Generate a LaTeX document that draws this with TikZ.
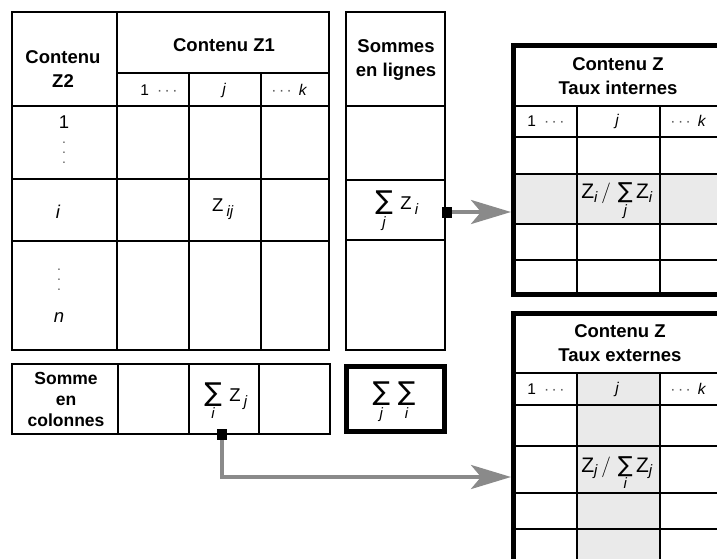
\documentclass[tikz,border=0pt]{standalone}
\usepackage{fontspec}
\setmainfont{Liberation Sans}
\newfontfamily\symfont{DejaVu Sans}
\usetikzlibrary{arrows.meta}
\definecolor{arrowgray}{RGB}{138,138,138}
\definecolor{cellgray}{RGB}{234,234,234}
\definecolor{dotgray}{RGB}{90,90,90}
\newcommand\sumop[1]{\mathop{\hbox{\symfont\fontsize{26}{26}\selectfont ∑}}\limits_{\hbox{\fontsize{15}{15}\selectfont\itshape #1}}}
\newcommand\sumopf[1]{\mathop{\hbox{\symfont\fontsize{22}{22}\selectfont ∑}}\limits_{\hbox{\fontsize{15}{15}\selectfont\itshape #1}}}
\newcommand\zsub[1]{\hbox{Z}_{\hbox{\fontsize{15}{15}\selectfont\itshape #1}}}
\newcommand\zsp[1]{\hbox{Z\,}_{\hbox{\fontsize{15}{15}\selectfont\itshape #1}}}
\newcommand\dd{{\color{dotgray}·\kern2.5pt·\kern2.5pt·}}
\newcommand\vd{{\color{dotgray}\fontsize{14}{8}\selectfont\vbox{\hbox{.}\kern2pt\hbox{.}\kern2pt\hbox{.}}}}
\tikzset{
  grid/.style={line width=1.4pt},
  frame/.style={line width=2pt},
  heavy/.style={line width=5pt},
  hdr/.style={font=\bfseries\fontsize{18.5}{24}\selectfont, align=center, inner sep=0pt},
  lbl/.style={font=\fontsize{18.5}{20}\selectfont, inner sep=0pt},
  vdot/.style={inner sep=0pt},
  subh/.style={font=\fontsize{15.5}{18}\selectfont, inner sep=0pt},
  formula/.style={font=\fontsize{21}{22}\selectfont, inner sep=0pt},
  marker/.style={fill=black, minimum width=10pt, minimum height=11pt, inner sep=0pt},
  flow/.style={draw=arrowgray, line width=4pt, -{Stealth[length=40pt,width=24pt,inset=10pt]}},
}
\begin{document}
\begin{tikzpicture}[x=1pt,y=-1pt]
\useasboundingbox (0,0) rectangle (717,559);
\clip (0,0) rectangle (717,559);

% ---------- main table ----------
\draw[grid] (117,73) -- (329,73);
\draw[grid] (12,106) -- (329,106);
\draw[grid] (12,179) -- (329,179);
\draw[grid] (12,241) -- (329,241);
\draw[grid] (117,12) -- (117,350);
\draw[grid] (189,73) -- (189,350);
\draw[grid] (261,73) -- (261,350);
\draw[frame] (12,12) rectangle (329,350);

\node[hdr] (z2) at (63,69) {Contenu\\Z2};
\node[hdr] (z1) at (224,45) {Contenu Z1};
\node[subh] (h1) at (159,90) {1\hspace{8pt}\dd};
\node[subh] (hj) at (224,90) {\itshape j};
\node[subh] (hk) at (289,90) {\dd\hspace{7pt}\itshape k};
\node[lbl] (r1) at (64,122) {1};
\node[vdot] (rv1) at (64,153) {\vd};
\node[lbl] (ri) at (58,212) {\itshape i};
\node[vdot] (rv2) at (59,280) {\vd};
\node[lbl] (rn) at (59,318) {\itshape n};
\node[lbl] (zij) at (223,209) {$\zsp{ij}$};

% ---------- row sums column ----------
\draw[grid] (346,106) -- (445,106);
\draw[grid] (346,180) -- (445,180);
\draw[grid] (346,240) -- (445,240);
\draw[grid] (346,12) rectangle (445,350);
\node[hdr] (sl) at (396,60) {Sommes\\en lignes};
\node[lbl] (rs) at (397,211) {$\sumop{j}\;\zsp{i}$};

% ---------- column sums row ----------
\draw[grid] (118,364) -- (118,434);
\draw[grid] (189,364) -- (189,434);
\draw[grid] (259,364) -- (259,434);
\draw[frame] (12,364) rectangle (330,434);
\node[hdr, font=\bfseries\fontsize{17.5}{21}\selectfont] (sc) at (66,399) {Somme\\en\\colonnes};
\node[lbl] (cs) at (226,401) {$\sumop{i}\;\zsp{j}$};

% ---------- grand total ----------
\draw[heavy] (346.5,366.5) rectangle (444.5,431.5);
\node[lbl] (tt) at (394,402) {$\sumop{j}\;\sumop{i}$};

% ---------- internal rates table ----------
\fill[cellgray] (513,174) rectangle (745,224);
\draw[grid] (513,106) -- (745,106);
\draw[grid] (513,137) -- (745,137);
\draw[grid] (513,174) -- (745,174);
\draw[grid] (513,224) -- (745,224);
\draw[grid] (513,260) -- (745,260);
\draw[grid] (577,106) -- (577,295);
\draw[grid] (660,106) -- (660,295);
\draw[heavy] (513.5,45.5) rectangle (745,294.5);
\coordinate (tiW) at (511,212);
\node[hdr] (tih) at (618,76) {Contenu Z\\Taux internes};
\node[subh] (ti1) at (546,121) {1\hspace{8pt}\dd};
\node[subh] (tij) at (617,121) {\itshape j};
\node[subh] (tik) at (688,121) {\dd\hspace{7pt}\itshape k};
\node[formula] (tif) at (617,201) {$\zsub{i}\,/\,\sumopf{j}\zsub{i}$};

% ---------- external rates table ----------
\fill[cellgray] (577,373) rectangle (660,600);
\draw[grid] (513,373) -- (745,373);
\draw[grid] (513,405) -- (745,405);
\draw[grid] (513,446) -- (745,446);
\draw[grid] (513,493) -- (745,493);
\draw[grid] (513,529) -- (745,529);
\draw[grid] (577,373) -- (577,600);
\draw[grid] (660,373) -- (660,600);
\draw[heavy] (513.5,313) rectangle (745,600);
\coordinate (teW) at (511,477);
\node[hdr] (teh) at (620,343) {Contenu Z\\Taux externes};
\node[subh] (te1) at (546,389) {1\hspace{8pt}\dd};
\node[subh] (tej) at (617,389) {\itshape j};
\node[subh] (tek) at (688,389) {\dd\hspace{7pt}\itshape k};
\node[formula] (tef) at (617,473) {$\zsub{j}\,/\,\sumopf{i}\zsub{j}$};

% ---------- connectors ----------
\node[marker] (m1) at (447,212) {};
\node[marker] (m2) at (222,434.5) {};
\draw[flow] (m1.east) -- (tiW);
\draw[flow] (m2.south) |- (teW);
\end{tikzpicture}
\end{document}
